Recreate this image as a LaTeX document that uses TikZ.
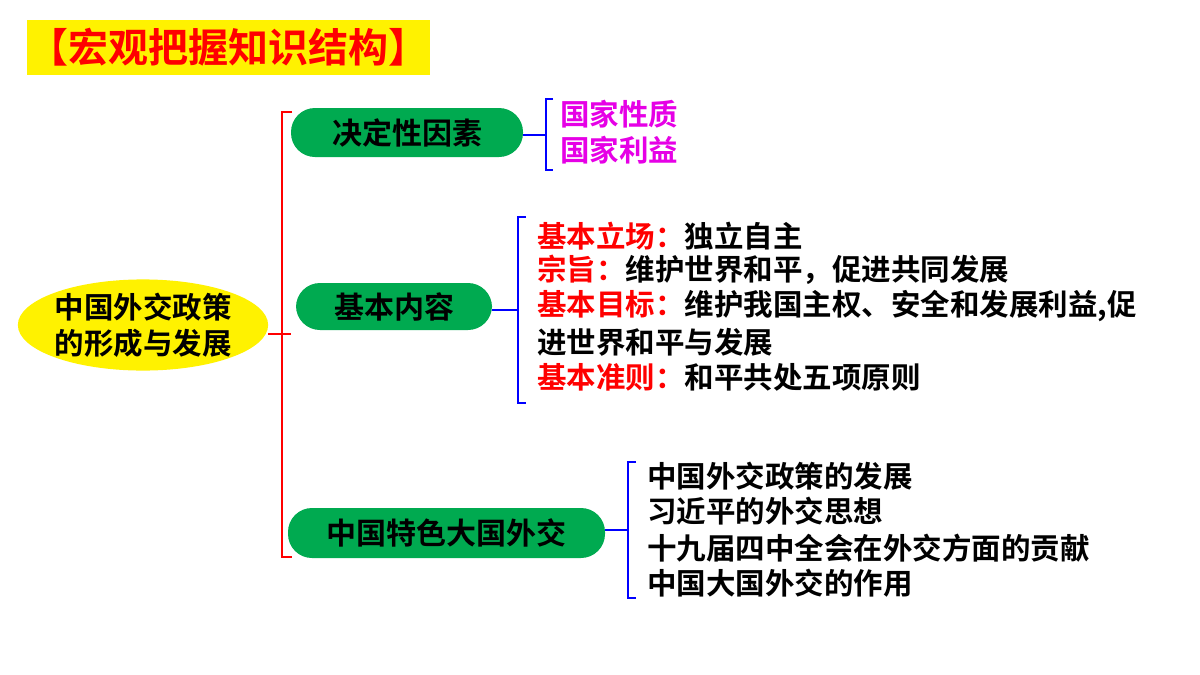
\documentclass[tikz,border=0pt]{standalone}
\usepackage{fontspec}
\setmainfont{Noto Sans CJK SC}[BoldFont={* Bold}]
\newfontfamily\cjk{Noto Sans CJK SC Bold}
\usetikzlibrary{shapes.geometric}
\definecolor{pill}{RGB}{0,170,80}
\definecolor{mag}{RGB}{230,0,230}
\begin{document}
\begin{tikzpicture}[x=1pt,y=-1pt,
  pillnode/.style={rounded rectangle,fill=pill,inner sep=0pt,font=\cjk\fontsize{30}{30}\selectfont},
  txt/.style={anchor=west,inner sep=0pt,font=\cjk\fontsize{29.5}{29.5}\selectfont},
  br/.style={line width=2pt},
  rounded rectangle/.style={rectangle,rounded corners=24pt}]
\useasboundingbox (0,0) rectangle (1200,675);
\fill[white] (0,0) rectangle (1200,675);
\node[fill=yellow,minimum width=403,minimum height=55,inner sep=0pt,font=\cjk\fontsize{40}{40}\selectfont,text=red] (title) at (228.5,47.5) {【宏观把握知识结构】};
\node[ellipse,fill=yellow,minimum width=238,minimum height=90,inner sep=0pt,font=\cjk\fontsize{29.5}{36}\selectfont,align=center] (root) at (143,325) {中国外交政策\\的形成与发展};
\node[pillnode,minimum width=232,minimum height=49] (a) at (407,132.5) {决定性因素};
\node[pillnode,minimum width=196,minimum height=47] (b) at (394,306.5) {基本内容};
\node[pillnode,minimum width=317,minimum height=50] (c) at (446.5,533) {中国特色大国外交};
% red bracket
\coordinate (r1) at (282,112); \coordinate (r2) at (282,557); \coordinate (rm) at (282,334);
\draw[br,red] (292,112) -- (r1) -- (r2) -- (292,557);
\draw[br,red] (root.east |- rm) -- (rm);
\draw[br,red] (rm) -- (a.west |- rm);
% blue brackets
\coordinate (b1m) at (546,135);
\draw[br,blue] (553,99) -- (546,99) -- (546,170) -- (553,170);
\draw[br,blue] (a.east |- b1m) -- (b1m);
\coordinate (b2m) at (518,310);
\draw[br,blue] (526,217) -- (518,217) -- (518,403) -- (526,403);
\draw[br,blue] (b.east |- b2m) -- (b2m);
\coordinate (b3m) at (628,530);
\draw[br,blue] (636,462) -- (628,462) -- (628,598) -- (636,598);
\draw[br,blue] (c.east |- b3m) -- (b3m);
% texts
\node[txt,text=mag] (t1) at (560,114) {国家性质};
\node[txt,text=mag] (t2) at (560,150) {国家利益};
\node[txt] (u1) at (537,236) {\textcolor{red}{基本立场：}独立自主};
\node[txt] (u2) at (537,270) {\textcolor{red}{宗旨：}维护世界和平，促进共同发展};
\node[txt] (u3) at (537,306) {\textcolor{red}{基本目标：}维护我国主权、安全和发展利益,促};
\node[txt] (u4) at (537,342) {进世界和平与发展};
\node[txt] (u5) at (537,377) {\textcolor{red}{基本准则：}和平共处五项原则};
\node[txt] (v1) at (647,476) {中国外交政策的发展};
\node[txt] (v2) at (647,511) {习近平的外交思想};
\node[txt] (v3) at (647,548) {十九届四中全会在外交方面的贡献};
\node[txt] (v4) at (647,583) {中国大国外交的作用};
\end{tikzpicture}
\end{document}
